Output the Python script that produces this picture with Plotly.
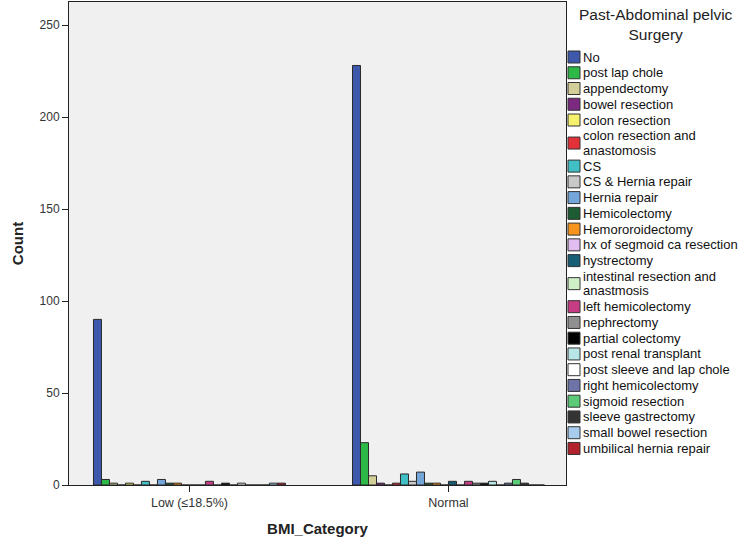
import textwrap
import plotly.graph_objects as go

# ---------------- data ----------------
bmi_categories = ["Low (≤18.5%)", "Normal"]

surgeries = [
    "No", "post lap chole", "appendectomy", "bowel resection", "colon resection",
    "colon resection and anastomosis", "CS", "CS & Hernia repair", "Hernia repair",
    "Hemicolectomy", "Hemororoidectomy", "hx of segmoid ca resection", "hystrectomy",
    "intestinal resection and anastmosis", "left hemicolectomy", "nephrectomy",
    "partial colectomy", "post renal transplant", "post sleeve and lap chole",
    "right hemicolectomy", "sigmoid resection", "sleeve gastrectomy",
    "small bowel resection", "umbilical hernia repair",
]

low_counts = [90, 3, 1, 0, 1, 0, 2, 0, 3, 1, 1, 0, 0, 0, 2, 0, 1, 0, 1, 0, 0, 0, 1, 1]
normal_counts = [228, 23, 5, 1, 0, 1, 6, 2, 7, 1, 1, 0, 2, 0, 2, 1, 1, 2, 0, 1, 3, 1, 0, 0]

colors = [
    "#3E58AC", "#2EB848", "#D4CF98", "#7B2A80", "#F6F26E", "#E3313A",
    "#40BFC4", "#C8C8C8", "#74A6D9", "#1D5B32", "#F7941D", "#E2BEF0",
    "#185E75", "#CFF0C6", "#C63C85", "#909090", "#000000", "#B8E5E6",
    "#FFFFFF", "#6E74A8", "#5CCB78", "#343434", "#A8CDEC", "#B1222C",
]

# ---------------- layout constants (pixels) ----------------
W, H = 750, 547
L, R, T, B = 69, 566, 2, 485
FONT = "Liberation Sans, Arial, sans-serif"

fig = go.Figure()
for name, lo, no, c in zip(surgeries, low_counts, normal_counts, colors):
    fig.add_trace(go.Bar(
        x=bmi_categories, y=[lo, no], name=name,
        marker=dict(color=c, line=dict(color="#2a2a2a", width=1)),
        showlegend=False,
    ))

def px_x(px):
    return (px - L) / (R - L)

def px_y(py):
    return (B - py) / (B - T)

annotations = []
shapes = []

# Legend title
annotations.append(dict(
    text="Past-Abdominal pelvic<br>Surgery", xref="paper", yref="paper",
    x=px_x(656), y=px_y(24), xanchor="center", yanchor="middle",
    showarrow=False, align="center",
    font=dict(family=FONT, size=15.5, color="#222222"),
))

# Custom legend (compact, like SPSS)
y_cur = 57.0
step = 15.75
wrap_gap = 14.6
for name, c in zip(surgeries, colors):
    lines = textwrap.wrap(name, 26)
    n = len(lines)
    y_mid = y_cur + (n - 1) * wrap_gap / 2
    shapes.append(dict(
        type="rect", xref="paper", yref="paper",
        x0=px_x(568), x1=px_x(580), y0=px_y(y_mid + 6), y1=px_y(y_mid - 6),
        fillcolor=c, line=dict(color="#333333", width=1),
    ))
    for k, line in enumerate(lines):
        annotations.append(dict(
            text=line, xref="paper", yref="paper",
            x=px_x(582), y=px_y(y_cur + k * wrap_gap), xanchor="left", yanchor="middle",
            showarrow=False, align="left", borderpad=0,
            font=dict(family=FONT, size=13, color="#111111"),
        ))
    y_cur += step + (n - 1) * wrap_gap

fig.update_layout(
    width=W, height=H,
    margin=dict(l=L, r=W - R, t=T, b=H - B, pad=0),
    paper_bgcolor="white", plot_bgcolor="#F0F0F0",
    barmode="group", bargap=0.259, bargroupgap=0,
    font=dict(family=FONT, size=12, color="#333333"),
    annotations=annotations, shapes=shapes,
    showlegend=False,
)

fig.update_xaxes(
    range=[-0.465, 1.4537], showgrid=False, zeroline=False,
    showline=True, linecolor="#222222", linewidth=1, mirror=True,
    ticks="outside", ticklen=6, tickcolor="#222222",
    tickfont=dict(family=FONT, size=12.5, color="#333333"),
    title=dict(text="BMI_Category", standoff=14,
               font=dict(family=FONT, size=15, color="#222222", weight="bold")),
)
fig.update_yaxes(
    range=[0, 262.5], showgrid=False, zeroline=False,
    tickvals=[0, 50, 100, 150, 200, 250],
    showline=True, linecolor="#222222", linewidth=1, mirror=True,
    ticks="outside", ticklen=6, tickcolor="#222222",
    tickfont=dict(family=FONT, size=12, color="#333333"),
    title=dict(text="Count", standoff=12,
               font=dict(family=FONT, size=15, color="#222222", weight="bold")),
)

fig.write_html("out.html")
